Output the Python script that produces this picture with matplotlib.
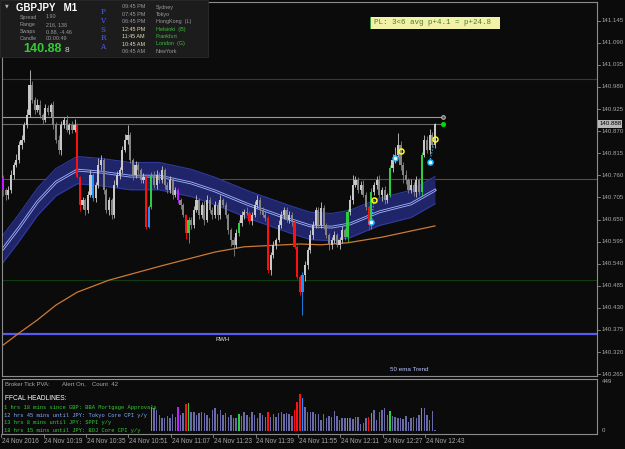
import numpy as np
import matplotlib.pyplot as plt
from matplotlib.patches import Rectangle

W, H = 625, 449
BG = '#0b0b0b'
FONT = 'Liberation Sans'

# GBPJPY M1, 24 Nov 2016, bar 0 = 10:03
first_open = 140.753
closes = [
    140.723, 140.711, 140.723, 140.761, 140.786, 140.798, 140.836, 140.848, 140.885, 140.910,
    140.985, 140.948, 140.923, 140.935, 140.910, 140.898, 140.928, 140.918, 140.935, 140.885,
    140.848, 140.823, 140.885, 140.898, 140.873, 140.885, 140.873, 140.885, 140.756, 140.686,
    140.698, 140.674, 140.711, 140.761, 140.703, 140.736, 140.786, 140.798, 140.723, 140.674,
    140.698, 140.661, 140.736, 140.761, 140.773, 140.823, 140.848, 140.860, 140.798, 140.761,
    140.786, 140.773, 140.748, 140.756, 140.631, 140.681, 140.761, 140.736, 140.761, 140.748,
    140.773, 140.736, 140.723, 140.748, 140.711, 140.723, 140.698, 140.686, 140.661, 140.616,
    140.649, 140.636, 140.674, 140.698, 140.661, 140.686, 140.649, 140.698, 140.674, 140.661,
    140.686, 140.661, 140.698, 140.686, 140.661, 140.624, 140.599, 140.587, 140.616, 140.641,
    140.661, 140.668, 140.666, 140.646, 140.661, 140.686, 140.698, 140.674, 140.661, 140.654,
    140.524, 140.562, 140.587, 140.599, 140.636, 140.661, 140.674, 140.649, 140.661, 140.644,
    140.582, 140.507, 140.469, 140.512, 140.537, 140.574, 140.611, 140.636, 140.674, 140.636,
    140.679, 140.636, 140.611, 140.587, 140.599, 140.611, 140.587, 140.599, 140.624, 140.606,
    140.668, 140.698, 140.736, 140.748, 140.723, 140.736, 140.711, 140.681, 140.636, 140.718,
    140.736, 140.748, 140.711, 140.723, 140.698, 140.711, 140.778, 140.798, 140.811, 140.836,
    140.786, 140.761, 140.748, 140.723, 140.736, 140.718, 140.748, 140.718, 140.811, 140.848,
    140.823, 140.860, 140.836, 140.888,
]
# wick lengths in points (0.001)
up_wick = [
    8, 6, 10, 12, 8, 15, 10, 12, 8, 15,
    37, 10, 8, 15, 12, 5, 10, 8, 6, 10,
    8, 12, 10, 8, 12, 6, 10, 15, 5, 3,
    8, 6, 10, 12, 5, 8, 18, 12, 6, 5,
    8, 6, 12, 10, 8, 10, 15, 25, 8, 6,
    10, 8, 6, 10, 3, 4, 8, 10, 12, 8,
    10, 6, 8, 10, 6, 8, 5, 6, 5, 3,
    8, 6, 10, 12, 6, 8, 10, 12, 8, 6,
    10, 8, 12, 6, 8, 5, 6, 8, 10, 8,
    10, 8, 12, 6, 8, 10, 12, 8, 6, 10,
    5, 8, 10, 6, 12, 10, 8, 6, 10, 8,
    3, 4, 5, 8, 10, 8, 12, 10, 8, 6,
    15, 8, 6, 5, 8, 10, 6, 8, 10, 6,
    8, 12, 25, 10, 8, 10, 12, 8, 5, 10,
    8, 10, 12, 8, 10, 6, 8, 15, 20, 30,
    10, 8, 12, 6, 15, 8, 10, 6, 8, 12,
    10, 15, 8, 3,
]
dn_wick = [
    15, 12, 10, 8, 10, 6, 8, 10, 6, 8,
    6, 8, 10, 6, 8, 10, 6, 8, 12, 10,
    8, 10, 12, 8, 6, 10, 8, 6, 3, 15,
    10, 12, 8, 6, 8, 10, 8, 12, 10, 8,
    12, 10, 8, 6, 10, 8, 6, 10, 8, 12,
    8, 10, 6, 8, 4, 3, 6, 8, 10, 6,
    8, 10, 6, 8, 10, 6, 8, 10, 6, 15,
    25, 10, 8, 6, 10, 8, 12, 6, 8, 10,
    8, 12, 10, 6, 8, 10, 15, 28, 8, 6,
    8, 10, 6, 8, 10, 6, 8, 10, 6, 8,
    6, 12, 8, 10, 6, 8, 10, 6, 8, 10,
    5, 4, 8, 57, 15, 10, 8, 10, 6, 8,
    8, 10, 6, 12, 10, 8, 6, 10, 8, 6,
    12, 8, 10, 6, 8, 10, 6, 8, 12, 10,
    8, 10, 6, 15, 10, 8, 6, 10, 8, 6,
    12, 20, 10, 6, 8, 10, 12, 8, 10, 6,
    8, 10, 6, 8,
]

red_bars = [28, 29, 54, 69, 93, 100, 110, 111, 112, 138]
blue_bars = [34, 55, 113]
green_bars = [56, 70, 89, 130, 139, 146, 158]
magenta_bars = [0, 66]

# tick volume for the last 108 bars
volume = [
    219, 204, 189, 144, 120, 114, 138, 114, 150, 129,
    213, 144, 160, 240, 252, 174, 168, 144, 159, 168,
    159, 144, 120, 189, 210, 150, 189, 144, 159, 129,
    144, 120, 114, 153, 138, 168, 144, 129, 168, 144,
    120, 159, 144, 129, 174, 129, 150, 129, 159, 168,
    150, 159, 150, 138, 189, 264, 330, 294, 219, 174,
    168, 168, 150, 150, 99, 150, 120, 138, 129, 180,
    138, 99, 114, 120, 120, 120, 105, 129, 129, 60,
    69, 120, 129, 159, 189, 99, 174, 189, 204, 144,
    180, 138, 129, 114, 120, 108, 138, 84, 120, 129,
    114, 144, 210, 204, 144, 99, 180, 9,
]

band_bars = [0, 6, 13, 20, 28, 37, 48, 59, 71, 80, 93, 108, 116, 124, 131, 142, 154, 163]
band_mid = [140.577, 140.629, 140.694, 140.743, 140.773, 140.768, 140.758, 140.758, 140.741,
            140.721, 140.686, 140.651, 140.634, 140.631, 140.639, 140.669, 140.689, 140.723]
band_half = 0.034

ema_bars = [0, 6, 13, 20, 28, 40, 60, 80, 91, 112, 120, 130, 143, 163]
ema50 = [140.337, 140.367, 140.400, 140.437, 140.469, 140.499, 140.535, 140.569, 140.582,
         140.589, 140.587, 140.592, 140.606, 140.634]

yellow_bars = [140, 150, 163]
yellow_px = [140.698, 140.820, 140.850]
cyan_bars = [139, 148, 161]
cyan_px = [140.644, 140.803, 140.793]

lvl_navy = 140.999
lvl_gray_hi = 140.906
lvl_gray_lo = 140.889
lvl_brown = 140.751
lvl_green = 140.499
lvl_rwh = 140.364

price_ticks = [141.145, 141.090, 141.035, 140.980, 140.925, 140.870, 140.815, 140.760, 140.705,
               140.650, 140.595, 140.540, 140.485, 140.430, 140.375, 140.320, 140.265]
time_bars = [0, 16, 32, 48, 64, 80, 96, 112, 128, 144, 160]
time_labels = ['24 Nov 2016', '24 Nov 10:19', '24 Nov 10:35', '24 Nov 10:51', '24 Nov 11:07',
               '24 Nov 11:23', '24 Nov 11:39', '24 Nov 11:55', '24 Nov 12:11', '24 Nov 12:27',
               '24 Nov 12:43']

info_keys = ['Spread', 'Range', 'Swaps', 'Candle']
info_vals = ['1.90', '216, 138', '0.88, -4.46', '00:00:49']
clock_times = ['09:45 PM', '07:45 PM', '06:45 PM', '12:45 PM', '11:45 AM', '10:45 AM', '06:45 AM']
clock_cities = ['Sydney', 'Tokyo', 'HongKong  (L)', 'Helsinki  (B)', 'Frankfurt', 'London  (G)', 'NewYork']
clock_open = [False, False, False, True, True, True, False]
headlines = ['1 hrs 18 mins since GBP: BBA Mortgage Approvals',
             '12 hrs 45 mins until JPY: Tokyo Core CPI y/y',
             '13 hrs 8 mins until JPY: SPPI y/y',
             '18 hrs 15 mins until JPY: BOJ Core CPI y/y']
headline_colors = ['#33cc33', '#7fb2ff', '#33cc33', '#33cc33']


def ftext(x, y, s, size, color, **kw):
    kw.setdefault('family', FONT)
    kw.setdefault('va', 'center')
    fig.text(x / W, 1 - y / H, s, fontsize=size, color=color, zorder=7, **kw)


fig = plt.figure(figsize=(W / 100, H / 100), dpi=100, facecolor=BG)
ax = fig.add_axes([2 / W, 1 - 376 / H, 595 / W, 374 / H])
ax2 = fig.add_axes([2 / W, 1 - 434 / H, 595 / W, 55 / H])
xlim = (-0.38, 224.15)
for a in (ax, ax2):
    a.set_facecolor(BG)
    a.set_xticks([])
    a.set_yticks([])
    a.set_xlim(*xlim)
    for s in a.spines.values():
        s.set_color('#8c8c8c')
        s.set_linewidth(0.8)
ax.set_ylim(140.2603, 141.1916)
ax2.set_ylim(-27, 468)

# horizontal levels
ax.axhline(lvl_navy, color='#23386e', lw=0.8, zorder=1)
ax.axhline(lvl_brown, color='#5c4c3c', lw=0.8, zorder=1)
ax.axhline(lvl_green, color='#123c12', lw=0.8, zorder=1)
ax.axhline(lvl_rwh, color='#5a5af0', lw=1.6, zorder=1)
ax.hlines(lvl_gray_hi, xlim[0], 166, color='#9a9a9a', lw=0.8, zorder=1)
ax.hlines(lvl_gray_lo, xlim[0], 166, color='#6a6a6a', lw=0.8, zorder=1)
ax.plot([166], [lvl_gray_hi], 'o', ms=2.6, mfc='#505050', mec='#c8c8c8', mew=0.7, zorder=5)
ax.plot([166], [lvl_gray_lo], 'o', ms=2.6, color='#00dd00', zorder=5)
ax.text(80, lvl_rwh - 0.007, 'RWH', color='#e0e0e0', fontsize=4.3, family=FONT, va='top')

# keltner-style band
bb = np.array(band_bars)
bm = np.array(band_mid)
ax.fill_between(bb, bm - band_half, bm + band_half, color='#1f2568', lw=0, zorder=1)
ax.plot(bb, bm + band_half, color='#2e3b9c', lw=0.8, zorder=1)
ax.plot(bb, bm - band_half, color='#2e3b9c', lw=0.8, zorder=1)
ax.plot(bb, bm, color='#9fb0ff', lw=2.0, zorder=2)
ax.plot(bb, bm, color='#1a1f55', lw=0.7, zorder=2)

# 50 ema
ax.plot(ema_bars, ema50, color='#cc7a34', lw=0.9, zorder=2)
ax.text(146, 140.276, '50 ema Trend', color='#b8c4ff', fontsize=4.5, family=FONT, va='center')

# candles
c = np.array(closes)
o = np.r_[first_open, c[:-1]]
hi = np.maximum(o, c) + np.array(up_wick) * 0.001
lo = np.minimum(o, c) - np.array(dn_wick) * 0.001
idx = np.arange(len(c))
BULL, BEAR = '#c8c8c8', '#848484'
cols = [BULL if c[i] >= o[i] else BEAR for i in idx]
for bars, colr in ((red_bars, '#ff1010'), (blue_bars, '#1e90ff'),
                   (green_bars, '#2ecc40'), (magenta_bars, '#c020ff')):
    for b in bars:
        cols[b] = colr
ax.vlines(idx, lo, hi, colors=cols, lw=0.6, zorder=3)
ax.bar(idx, np.maximum(np.abs(c - o), 0.0015), bottom=np.minimum(o, c), width=0.8,
       color=cols, lw=0, zorder=3)

# signal rings
ax.plot([cyan_bars[0], yellow_bars[0]], [cyan_px[0], yellow_px[0]], ':', color='#40c8ff', lw=0.8, zorder=4)
ax.plot([cyan_bars[2], yellow_bars[2]], [cyan_px[2], yellow_px[2]], ':', color='#40c8ff', lw=0.8, zorder=4)
ax.plot(yellow_bars, yellow_px, 'o', ms=3.6, mfc='none', mec='#ffff00', mew=1.1, zorder=5)
ax.plot(cyan_bars, cyan_px, 'o', ms=3.6, mfc='#ffffff', mec='#20b8ff', mew=1.1, zorder=5)

# right price scale
yt = ax.get_yaxis_transform()
for p in price_ticks:
    ax.plot([1.0, 1.005], [p, p], transform=yt, color='#8c8c8c', lw=0.6, clip_on=False)
    ax.text(1.0075, p, '%.3f' % p, transform=yt, color='#a8a8a8', fontsize=4.4,
            family=FONT, va='center', ha='left')
ax.text(1.0035, closes[-1], '%.3f' % closes[-1], transform=yt, color='#000000', fontsize=4.4,
        family=FONT, va='center', ha='left', zorder=6,
        bbox=dict(fc='#b8b8b8', ec='none', pad=0.8))

# volume sub window
vidx = np.arange(len(c) - len(volume), len(c))
vcols = [cols[i] if cols[i] not in (BULL, BEAR) else '#6a6aa8' for i in vidx]
ax2.bar(vidx, volume, width=0.55, color=vcols, lw=0, zorder=2)
ax2.text(1.0075, 449, '449', transform=ax2.get_yaxis_transform(), color='#a8a8a8',
         fontsize=4.4, family=FONT, va='center')
ax2.text(1.0075, 0, '0', transform=ax2.get_yaxis_transform(), color='#a8a8a8',
         fontsize=4.4, family=FONT, va='center')

# time axis
xt = ax2.get_xaxis_transform()
for b, lab in zip(time_bars, time_labels):
    ax2.plot([b - 0.7, b - 0.7], [0, -0.06], transform=xt, color='#8c8c8c', lw=0.6, clip_on=False)
    ax2.text(b - 0.4, -0.13, lab, transform=xt, color='#a8a8a8', fontsize=4.7,
             family=FONT, va='center', ha='left')

# sub window texts
ftext(5, 384, 'Broker Tick PVA:', 4.3, '#a8a8a8')
ftext(62, 384, 'Alert On,', 4.3, '#a8a8a8')
ftext(92, 384, 'Count  42', 4.3, '#a8a8a8')
ftext(5, 398, 'FFCAL HEADLINES:', 4.8, '#ffffff')
for k, (hl, hc) in enumerate(zip(headlines, headline_colors)):
    ftext(4, 408 + k * 7.4, hl, 3.9, hc, family='Liberation Mono')

# top-left info panel
fig.add_artist(Rectangle((0, 1 - 57 / H), 208 / W, 57 / H, transform=fig.transFigure,
                         fc='#1c1c1c', ec='#2c2c2c', lw=0.6, zorder=6))
ftext(5, 6, '\u25bc', 3.5, '#b0b0b0', family='DejaVu Sans')
ftext(16, 8, 'GBPJPY   M1', 7.0, '#ffffff', weight='bold')
for k, (key, val) in enumerate(zip(info_keys, info_vals)):
    ftext(20, 17 + k * 7.3, key, 3.9, '#9a9a9a')
    ftext(46, 17 + k * 7.3, val, 3.9, '#9a9a9a')
ftext(23, 49, '140.88', 9.0, '#33cc33', weight='bold')
ftext(65, 50, '8', 6.0, '#d0d0d0')
for k, ch in enumerate('PVSRA'):
    ftext(103, 12 + k * 8.8, ch, 5.2, '#4a5cff', family='DejaVu Serif', ha='center')
for k, (t, city, is_open) in enumerate(zip(clock_times, clock_cities, clock_open)):
    yy = 7 + k * 7.4
    ftext(122, yy, t, 3.9, '#e8dcb8' if is_open else '#9a9a9a')
    ftext(156, yy, city, 3.9, '#3cc03c' if is_open else '#9a9a9a')

# profit label box
fig.add_artist(Rectangle((370 / W, 1 - 29 / H), 130 / W, 12 / H, transform=fig.transFigure,
                         fc='#f2f2a6', ec='none', zorder=6))
fig.add_artist(Rectangle((370 / W, 1 - 29 / H), 1.2 / W, 12 / H, transform=fig.transFigure,
                         fc='#3a9a3a', ec='none', zorder=6))
ftext(374, 23, 'PL: 3<6 avg p+4.1 = p+24.8', 5.4, '#4a7a3a', family='Liberation Mono')

fig.savefig('out.png', dpi=100, facecolor=BG)
